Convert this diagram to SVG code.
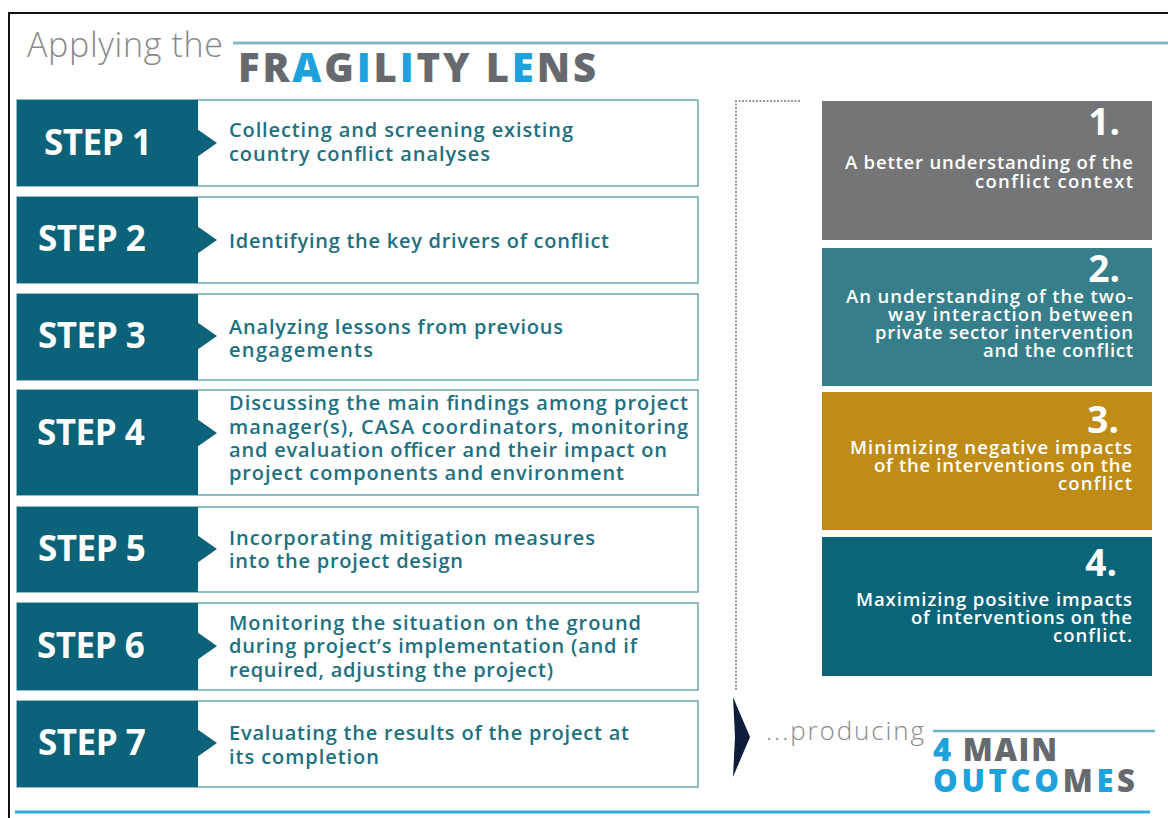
<svg xmlns="http://www.w3.org/2000/svg" width="1168" height="818" viewBox="0 0 1168 818">
  <style>
    .frame { fill: none; stroke: #111; stroke-width: 2; }
    .row { fill: #fff; stroke: #6aa8b6; stroke-width: 1.5; }
    .tab { fill: #0c6278; }
    .notch { fill: #0c6278; }
    .steplbl { font-family: "Open Sans", "Noto Sans", sans-serif; font-weight: 700; font-size: 35px; fill: #fff; letter-spacing: -0.5px; }
    .steptxt { font-family: "Open Sans", "Noto Sans", sans-serif; font-weight: 600; font-size: 20px; fill: #21707f; }
    .num { font-family: "Open Sans", "Noto Sans", sans-serif; font-weight: 700; font-size: 37px; fill: #fff; text-anchor: end; }
    .otxt { font-family: "Open Sans", "Noto Sans", sans-serif; font-weight: 600; font-size: 18.5px; fill: #fff; text-anchor: end; letter-spacing: -1px; }
    .head { font-family: "Open Sans", "Noto Sans", sans-serif; font-weight: 800; }
    .gray { fill: #666a6e; }
    .blue { fill: #1ea2dc; }
    .dots { fill: none; stroke: #9a9a9a; stroke-width: 2; stroke-dasharray: 2 1.5; }
  </style>

  <rect width="1168" height="818" fill="#fff"/>
  <!-- page frame -->
  <path class="frame" d="M9 818 V13 H1168"/>

  <!-- heading -->
  <g id="heading">
    <text x="27" y="57" font-family="Open Sans, Noto Sans, sans-serif" font-weight="300" font-size="34" fill="#8a8a8a" textLength="196">Applying the</text>
    <line x1="233" y1="43" x2="1168" y2="43" stroke="#84b8c6" stroke-width="3"/>
    <text class="head gray" x="238" y="82" font-size="40" textLength="358"><tspan>FR</tspan><tspan class="blue">A</tspan><tspan>G</tspan><tspan class="blue">I</tspan><tspan>L</tspan><tspan class="blue">I</tspan><tspan>TY L</tspan><tspan class="blue">E</tspan><tspan>NS</tspan></text>
  </g>

  <!-- steps -->
  <g id="step1">
    <rect class="row" x="17" y="100" width="681" height="86"/>
    <rect class="tab" x="17" y="100" width="181" height="86"/>
    <polygon class="notch" points="197,129 217,143 197,157"/>
    <text class="steplbl" x="44" y="155">STEP 1</text>
    <text class="steptxt" x="229" y="137" textLength="344">Collecting and screening existing</text>
    <text class="steptxt" x="229" y="161" textLength="261">country conflict analyses</text>
  </g>
  <g id="step2">
    <rect class="row" x="17" y="197" width="681" height="86"/>
    <rect class="tab" x="17" y="197" width="181" height="86"/>
    <polygon class="notch" points="197,226 217,240 197,254"/>
    <text class="steplbl" x="38" y="251">STEP 2</text>
    <text class="steptxt" x="229" y="248" textLength="380">Identifying the key drivers of conflict</text>
  </g>
  <g id="step3">
    <rect class="row" x="17" y="294" width="681" height="86"/>
    <rect class="tab" x="17" y="294" width="181" height="86"/>
    <polygon class="notch" points="197,322 217,336 197,350"/>
    <text class="steplbl" x="38" y="348">STEP 3</text>
    <text class="steptxt" x="229" y="334" textLength="334">Analyzing lessons from previous</text>
    <text class="steptxt" x="229" y="357" textLength="144">engagements</text>
  </g>
  <g id="step4">
    <rect class="row" x="17" y="390" width="681" height="105"/>
    <rect class="tab" x="17" y="390" width="181" height="105"/>
    <polygon class="notch" points="197,419 217,433 197,447"/>
    <text class="steplbl" x="37" y="445">STEP 4</text>
    <text class="steptxt" x="229" y="410" textLength="459">Discussing the main findings among project</text>
    <text class="steptxt" x="229" y="434" textLength="459">manager(s), CASA coordinators, monitoring</text>
    <text class="steptxt" x="229" y="457" textLength="438">and evaluation officer and their impact on</text>
    <text class="steptxt" x="229" y="480" textLength="395">project components and environment</text>
  </g>
  <g id="step5">
    <rect class="row" x="17" y="507" width="681" height="85"/>
    <rect class="tab" x="17" y="507" width="181" height="85"/>
    <polygon class="notch" points="197,535 217,549 197,563"/>
    <text class="steplbl" x="38" y="561">STEP 5</text>
    <text class="steptxt" x="229" y="545" textLength="366">Incorporating mitigation measures</text>
    <text class="steptxt" x="229" y="568" textLength="234">into the project design</text>
  </g>
  <g id="step6">
    <rect class="row" x="17" y="603" width="681" height="87"/>
    <rect class="tab" x="17" y="603" width="181" height="87"/>
    <polygon class="notch" points="197,632 217,646 197,660"/>
    <text class="steplbl" x="37" y="658">STEP 6</text>
    <text class="steptxt" x="229" y="630" textLength="412">Monitoring the situation on the ground</text>
    <text class="steptxt" x="229" y="653" textLength="408">during project’s implementation (and if</text>
    <text class="steptxt" x="229" y="677" textLength="324">required, adjusting the project)</text>
  </g>
  <g id="step7">
    <rect class="row" x="17" y="701" width="681" height="86"/>
    <rect class="tab" x="17" y="701" width="181" height="86"/>
    <polygon class="notch" points="197,729 217,743 197,757"/>
    <text class="steplbl" x="38" y="755">STEP 7</text>
    <text class="steptxt" x="229" y="740" textLength="400">Evaluating the results of the project at</text>
    <text class="steptxt" x="229" y="764" textLength="150">its completion</text>
  </g>

  <!-- connectors: dotted bracket and pointer toward the outcomes -->
  <g id="connectors">
    <path class="dots" d="M800 101 H736 V690"/>
    <polygon points="733,697 750,737 733,777 735,737" fill="#0f1d3a"/>
  </g>

  <!-- outcomes -->
  <g id="outcome1">
    <rect x="822" y="101" width="330" height="139" fill="#747576"/>
    <text class="num" x="1120" y="135">1.</text>
    <text class="otxt" x="1132" y="169" textLength="287">A better understanding of the</text>
    <text class="otxt" x="1132" y="188" textLength="157">conflict context</text>
  </g>
  <g id="outcome2">
    <rect x="822" y="248" width="330" height="138" fill="#367e89"/>
    <text class="num" x="1120" y="282">2.</text>
    <text class="otxt" x="1132" y="303" textLength="286">An understanding of the two-</text>
    <text class="otxt" x="1132" y="321" textLength="244">way interaction between</text>
    <text class="otxt" x="1132" y="339" textLength="257">private sector intervention</text>
    <text class="otxt" x="1132" y="357" textLength="149">and the conflict</text>
  </g>
  <g id="outcome3">
    <rect x="822" y="392" width="330" height="138" fill="#c08c18"/>
    <text class="num" x="1119" y="433">3.</text>
    <text class="otxt" x="1131" y="454" textLength="281">Minimizing negative impacts</text>
    <text class="otxt" x="1131" y="472" textLength="257">of the interventions on the</text>
    <text class="otxt" x="1131" y="490" textLength="73">conflict</text>
  </g>
  <g id="outcome4">
    <rect x="822" y="537" width="330" height="139" fill="#0b6579"/>
    <text class="num" x="1117" y="576">4.</text>
    <text class="otxt" x="1131" y="606" textLength="275">Maximizing positive impacts</text>
    <text class="otxt" x="1131" y="624" textLength="220">of interventions on the</text>
    <text class="otxt" x="1131" y="642" textLength="78">conflict.</text>
  </g>

  <!-- closing caption -->
  <g id="caption">
    <text x="766" y="740" font-family="Open Sans, Noto Sans, sans-serif" font-weight="300" font-size="26" fill="#8a8a8a" textLength="158">...producing</text>
    <line x1="933" y1="731" x2="1155" y2="731" stroke="#6fb3c8" stroke-width="2.5"/>
    <text class="head gray" x="933" y="761" font-size="31" textLength="124"><tspan class="blue">4</tspan><tspan> MAIN</tspan></text>
    <text class="head gray" x="933" y="792" font-size="31" textLength="202"><tspan class="blue">OUTCO</tspan><tspan>M</tspan><tspan class="blue">E</tspan><tspan>S</tspan></text>
  </g>

  <line x1="15" y1="812" x2="1150" y2="812" stroke="#31a9e1" stroke-width="3"/>
</svg>
